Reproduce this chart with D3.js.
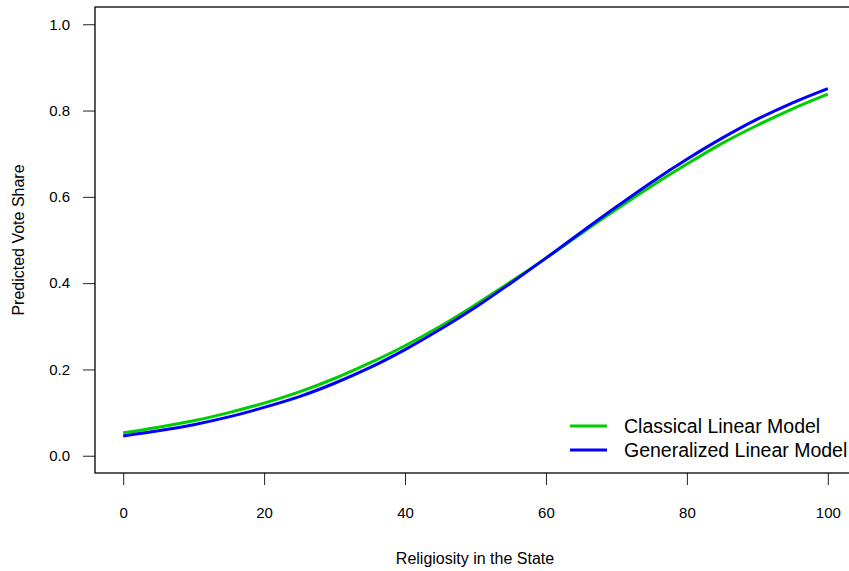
<!DOCTYPE html>
<html>

<head>
  <meta charset="utf-8">
  <script src="https://cdn.jsdelivr.net/npm/d3@7"></script>
  <style type="text/css">
    body {
      margin: 0;
      background: #fff;
      font-family: "Liberation Sans", Arial, sans-serif;
    }
  </style>
</head>

<body>
  <script type="text/javascript">
    const width = 849;
    const height = 571;

    // religiosity values and predicted vote share of both models
    const religiosity = [0, 5, 10, 15, 20, 25, 30, 35, 40, 45, 50, 55, 60, 65, 70, 75, 80, 85, 90, 95, 100];
    const classicalShare = [0.053, 0.066, 0.081, 0.100, 0.122, 0.148, 0.179, 0.215, 0.255, 0.300, 0.350, 0.403,
      0.458, 0.515, 0.571, 0.625, 0.676, 0.724, 0.766, 0.804, 0.838];
    const generalizedShare = [0.046, 0.058, 0.072, 0.090, 0.112, 0.137, 0.168, 0.204, 0.246, 0.293, 0.344, 0.400,
      0.458, 0.518, 0.577, 0.634, 0.687, 0.736, 0.780, 0.818, 0.851];
    const xTicks = [0, 20, 40, 60, 80, 100];
    const yTicks = [0, 0.2, 0.4, 0.6, 0.8, 1.0];
    const seriesNames = ['Classical Linear Model', 'Generalized Linear Model'];
    const seriesColors = ['#00cd00', '#0000ff'];

    const svg = d3.select('body').append('svg')
      .attr('width', width)
      .attr('height', height);

    // R style: range padded by 4% on each side
    const x = d3.scaleLinear().domain([-4, 104]).range([95, 856]);
    const y = d3.scaleLinear().domain([-0.04, 1.04]).range([473, 7]);

    const xAxis = svg.append('g')
      .attr('transform', `translate(0, 473)`)
      .call(d3.axisBottom(x).tickValues(xTicks).tickSize(12).tickPadding(22).tickFormat(d3.format('d')));
    const yAxis = svg.append('g')
      .attr('transform', `translate(95, 0)`)
      .call(d3.axisLeft(y).tickValues(yTicks).tickSize(12).tickPadding(13).tickFormat(d3.format('.1f')));

    [xAxis, yAxis].forEach(a => {
      a.select('.domain').remove();
      a.selectAll('text').style('font-size', '15px').style('font-family', '"Liberation Sans", Arial, sans-serif').attr('fill', '#000');
      a.selectAll('line').attr('stroke', '#222');
    });

    // plot box
    svg.append('rect')
      .attr('x', 95).attr('y', 7)
      .attr('width', 761).attr('height', 466)
      .attr('fill', 'none')
      .attr('stroke', '#000')
      .attr('stroke-width', 1.3);

    const line = d3.line()
      .x((d, i) => x(religiosity[i]))
      .y(d => y(d))
      .curve(d3.curveMonotoneX);

    [classicalShare, generalizedShare].forEach((s, k) => {
      svg.append('path')
        .datum(s)
        .attr('d', line)
        .attr('fill', 'none')
        .attr('stroke', seriesColors[k])
        .attr('stroke-width', 3);
    });

    // axis titles
    svg.append('text')
      .attr('x', 475).attr('y', 564)
      .attr('text-anchor', 'middle')
      .style('font-size', '16px')
      .text('Religiosity in the State');
    svg.append('text')
      .attr('transform', 'translate(24, 240) rotate(-90)')
      .attr('text-anchor', 'middle')
      .style('font-size', '16px')
      .text('Predicted Vote Share');

    // legend
    const legend = svg.append('g');
    seriesNames.forEach((name, k) => {
      const ly = 426 + k * 24;
      legend.append('line')
        .attr('x1', 570).attr('x2', 607)
        .attr('y1', ly).attr('y2', ly)
        .attr('stroke', seriesColors[k])
        .attr('stroke-width', 3);
      legend.append('text')
        .attr('x', 624).attr('y', ly + 7)
        .style('font-size', '19.5px')
        .text(name);
    });
  </script>
</body>

</html>
